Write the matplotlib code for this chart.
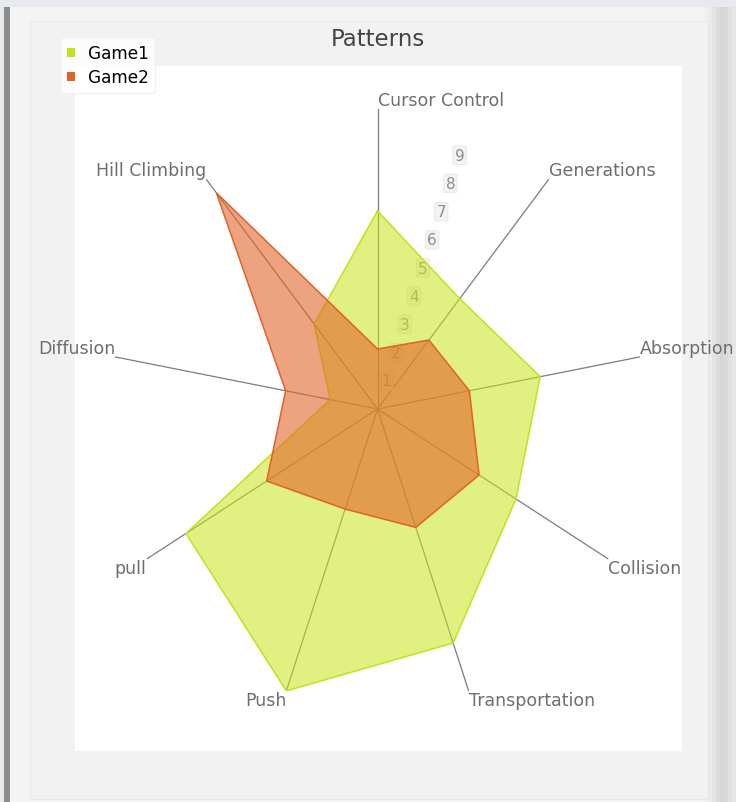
import numpy as np
import matplotlib
matplotlib.use("Agg")
import matplotlib.pyplot as plt
from matplotlib.patches import Rectangle, Patch

categories = ["Cursor Control", "Generations", "Absorption", "Collision",
              "Transportation", "Push", "pull", "Diffusion", "Hill Climbing"]
game1 = [6.6, 4.8, 6.2, 6.0, 8.3, 10.0, 8.3, 1.8, 3.7]
game2 = [2.0, 3.0, 3.5, 4.4, 4.2, 3.55, 4.8, 3.5, 9.4]
series_names = ["Game1", "Game2"]
tick_values = [1, 2, 3, 4, 5, 6, 7, 8, 9]
rmax = 10

W, H = 736, 803
fig = plt.figure(figsize=(W / 100, H / 100), dpi=100)
fig.patch.set_facecolor("#e6e9ee")

def px_rect(x0, y0, x1, y1, **kw):
    r = Rectangle((x0 / W, 1 - y1 / H), (x1 - x0) / W, (y1 - y0) / H,
                  transform=fig.transFigure, **kw)
    fig.patches.append(r)

# frame decoration
px_rect(10, 8, 736, 803, facecolor="#f4f4f4", edgecolor="none", zorder=-5)
for i, c in enumerate(["#f0f0f0", "#ebebeb", "#e4e4e4", "#dcdcdc", "#d6d6d6",
                       "#d9d9d9", "#e0e0e0", "#e6e6e6"]):
    px_rect(704 + i * 4, 8, 708 + i * 4, 803, facecolor=c, edgecolor="none", zorder=-4)
px_rect(4, 8, 10, 803, facecolor="#8c8c8c", edgecolor="none", zorder=-4)
px_rect(30, 22, 708, 800, facecolor="#f2f2f2", edgecolor="#e8e8e8", lw=0.8, zorder=-3)
px_rect(75, 67, 682, 752, facecolor="#ffffff", edgecolor="none", zorder=-2)

# radar axes (elliptical polar axes)
cx, cy, Rx, Ry = 377.5, 410, 266.5, 300
ax = fig.add_axes([(cx - Rx) / W, 1 - (cy + Ry) / H, 2 * Rx / W, 2 * Ry / H],
                  projection="polar")
ax.set_zorder(2)
ax.set_aspect("auto")
ax.set_theta_offset(np.pi / 2)
ax.set_theta_direction(-1)
ax.set_ylim(0, rmax)
ax.patch.set_alpha(0)
ax.grid(False)
ax.set_xticks([])
ax.set_yticks([])
ax.spines["polar"].set_visible(False)

n = len(categories)
theta = np.arange(n) * 2 * np.pi / n

# spokes
for t in theta:
    ax.plot([t, t], [0, rmax], color="#7c7c7c", lw=0.9, zorder=1)

# tick labels along the direction between first two spokes
t_tick = np.pi / n
for v in tick_values:
    ax.text(t_tick, v, str(v), fontsize=11, color="#8e8e8e", ha="center", va="center",
            zorder=1.5,
            bbox=dict(boxstyle="round,pad=0.12", fc="#f3f3f3", ec="#e6e6e6", lw=0.6))

# series
colors = ["#c6e01c", "#e2612a"]
fills = ["#c8e41a", "#e2652c"]
for vals, col, fc, z, a in [(game1, colors[0], fills[0], 2, 0.55),
                            (game2, colors[1], fills[1], 3, 0.6)]:
    tt = np.append(theta, theta[0])
    vv = np.append(vals, vals[0])
    ax.fill(tt, vv, color=fc, alpha=a, zorder=z, lw=0)
    ax.plot(tt, vv, color=col, lw=1.1, zorder=z + 0.1)

# category labels
for t, lab in zip(theta, categories):
    ang = np.pi / 2 - t
    c, s = np.cos(ang), np.sin(ang)
    if abs(c) < 0.05:
        ha = "left"
    else:
        ha = "left" if c > 0 else "right"
    va = "bottom" if s > 0 else "top"
    ax.text(t, rmax, lab, fontsize=12.5, color="#6e6e6e", ha=ha, va=va, zorder=5,
            clip_on=False)

# title
fig.text(378 / W, 1 - 40 / H, "Patterns", fontsize=16.5, color="#444444",
         ha="center", va="center")

# legend
handles = [Patch(facecolor=colors[0], edgecolor="none"),
           Patch(facecolor=colors[1], edgecolor="none")]
leg = fig.legend(handles, series_names, loc="upper left",
                 bbox_to_anchor=(52 / W, 1 - 30 / H), fontsize=12.2,
                 frameon=True, fancybox=True, handlelength=0.45, handleheight=0.45,
                 handletextpad=0.75, labelspacing=0.35, borderpad=0.4)
leg.get_frame().set_facecolor("#ffffff")
leg.get_frame().set_edgecolor("#f0f0f0")
leg.set_zorder(5)

fig.savefig("out.png", dpi=100, facecolor=fig.get_facecolor())
